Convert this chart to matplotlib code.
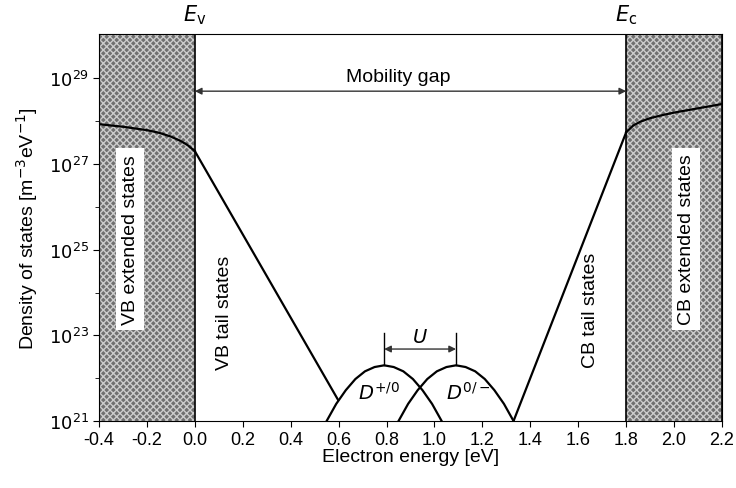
import numpy as np
import matplotlib
matplotlib.use('Agg')
import matplotlib.pyplot as plt

plt.rcParams['font.family'] = ['Liberation Sans', 'DejaVu Sans']

# energies [eV] and log10 of density of states [m^-3 eV^-1]
vb_ext_e = [-0.4, -0.3, -0.2, -0.15, -0.1, -0.06, -0.03, 0.0]
vb_ext_log = [27.93, 27.87, 27.79, 27.73, 27.64, 27.54, 27.44, 27.30]

vb_tail_e = [0.0, 0.597]
vb_tail_log = [27.30, 21.50]

cb_tail_e = [1.33, 1.80]
cb_tail_log = [21.0, 27.74]

cb_ext_e = [1.80, 1.83, 1.86, 1.90, 1.95, 2.0, 2.1, 2.2]
cb_ext_log = [27.74, 27.90, 27.99, 28.07, 28.14, 28.20, 28.30, 28.40]

d_plus_e = [0.55, 0.59, 0.63, 0.67, 0.71, 0.75, 0.79, 0.83, 0.87, 0.91, 0.95, 0.99, 1.03]
d_plus_log = [21.0, 21.40, 21.72, 21.98, 22.16, 22.26, 22.30, 22.26, 22.16, 21.98, 21.72, 21.40, 21.0]

d_minus_e = [0.85, 0.89, 0.93, 0.97, 1.01, 1.05, 1.09, 1.13, 1.17, 1.21, 1.25, 1.29, 1.33]
d_minus_log = [21.0, 21.40, 21.72, 21.98, 22.16, 22.26, 22.30, 22.26, 22.16, 21.98, 21.72, 21.40, 21.0]

ev, ec = 0.0, 1.8
x_ticks = [-0.4, -0.2, 0.0, 0.2, 0.4, 0.6, 0.8, 1.0, 1.2, 1.4, 1.6, 1.8, 2.0, 2.2]
y_major = [21, 23, 25, 27, 29]
y_minor = [22, 24, 26, 28]

fig = plt.figure(figsize=(7.36, 4.89), dpi=100)
ax = fig.add_axes([0.1345, 0.137, 0.8465, 0.791])
ax.set_yscale('log')
ax.set_xlim(-0.4, 2.2)
ax.set_ylim(1e21, 10**30.03)

# extended-state regions (stippled in the original)
for x0, x1 in [(-0.4, ev), (ec, 2.2)]:
    ax.axvspan(x0, x1, facecolor='#707070', edgecolor='#cccccc', hatch='xxxxx', lw=0, zorder=0)
    ax.axvline(x0, color='black', lw=1.2, zorder=1)
    ax.axvline(x1, color='black', lw=1.2, zorder=1)

def pw(v):
    return [10.0 ** a for a in v]

for e, l in [(vb_ext_e, vb_ext_log), (vb_tail_e, vb_tail_log), (cb_tail_e, cb_tail_log),
             (cb_ext_e, cb_ext_log), (d_plus_e, d_plus_log), (d_minus_e, d_minus_log)]:
    ax.plot(e, pw(l), color='black', lw=1.6, zorder=3)

# white boxes with labels of extended states
wbox = dict(boxstyle='square,pad=0.3', facecolor='white', edgecolor='none')
ax.text(-0.27, 10**25.25, 'VB extended states', rotation=90, ha='center', va='center',
        fontsize=14, bbox=wbox, zorder=4)
ax.text(2.05, 10**25.25, 'CB extended states', rotation=90, ha='center', va='center',
        fontsize=14, bbox=wbox, zorder=4)
ax.text(0.125, 10**23.55, 'VB tail states', rotation=90, ha='center', va='center', fontsize=14)
ax.text(1.65, 10**23.6, 'CB tail states', rotation=90, ha='center', va='center', fontsize=14)

# mobility gap arrow
ax.annotate('', xy=(ev, 10**28.7), xytext=(ec, 10**28.7),
            arrowprops=dict(arrowstyle='<|-|>', color='#333333', lw=1.0,
                            mutation_scale=10, shrinkA=0, shrinkB=0))
ax.text(0.85, 10**29.05, 'Mobility gap', ha='center', va='center', fontsize=14)

# correlation energy U
ax.plot([0.79, 0.79], [10**22.3, 10**23.05], color='black', lw=1.0)
ax.plot([1.09, 1.09], [10**22.3, 10**23.05], color='black', lw=1.0)
ax.annotate('', xy=(0.79, 10**22.68), xytext=(1.09, 10**22.68),
            arrowprops=dict(arrowstyle='<|-|>', color='#333333', lw=1.0,
                            mutation_scale=10, shrinkA=0, shrinkB=0))
ax.text(0.94, 10**22.95, '$U$', ha='center', va='center', fontsize=14)
ax.text(0.77, 10**21.67, '$D^{+/0}$', ha='center', va='center', fontsize=14)
ax.text(1.14, 10**21.67, '$D^{0/-}$', ha='center', va='center', fontsize=14)

ax.text(ev, 10**30.5, '$E_\\mathrm{v}$', ha='center', va='center', fontsize=15)
ax.text(ec, 10**30.5, '$E_\\mathrm{c}$', ha='center', va='center', fontsize=15)

ax.set_xticks(x_ticks)
ax.set_xticklabels(['%.1f' % t for t in x_ticks])
ax.set_yticks([10.0 ** k for k in y_major])
ax.set_yticklabels(['$10^{%d}$' % k for k in y_major])
ax.set_yticks([10.0 ** k for k in y_minor], minor=True)
ax.set_yticklabels([], minor=True)
ax.tick_params(axis='both', which='major', direction='out', length=4, labelsize=13)
ax.tick_params(axis='y', which='minor', direction='out', length=3)

ax.set_xlabel('Electron energy [eV]', fontsize=14, labelpad=0)
ax.set_ylabel('Density of states [m$^{-3}$eV$^{-1}$]', fontsize=14, labelpad=6)

fig.savefig('out.png', dpi=100)
